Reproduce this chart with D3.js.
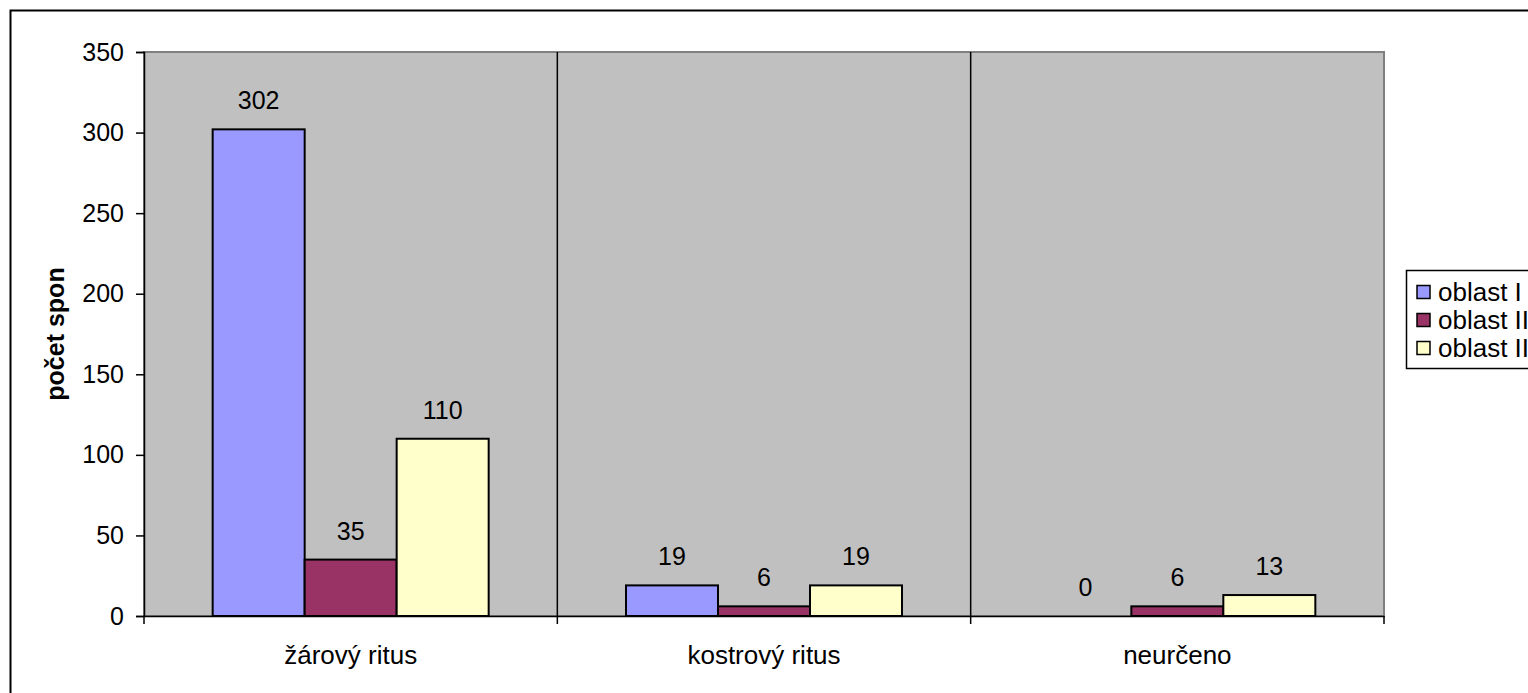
<!DOCTYPE html>
<html><head><meta charset="utf-8">
<script src="https://cdn.jsdelivr.net/npm/d3@7"></script>
<style>html,body{margin:0;padding:0;background:#fff;overflow:hidden}text{font-family:"Liberation Sans",Arial,sans-serif}</style>
</head><body><svg id="c" width="1528" height="693"></svg>
<script>
const categories = ["žárový ritus", "kostrový ritus", "neurčeno"];
const seriesNames = ["oblast I", "oblast II", "oblast III"];
const seriesColors = ["#9999FF", "#993366", "#FFFFCC"];
const oblastI = [302, 19, 0];
const oblastII = [35, 6, 6];
const oblastIII = [110, 19, 13];
const yTicks = [0, 50, 100, 150, 200, 250, 300, 350];
const yTitle = "počet spon";

const series = [oblastI, oblastII, oblastIII];
const svg = d3.select("#c");
const FS = 25, FS2 = 26;
const L = 144, R = 1384, T = 52, B = 616;

// outer frame
svg.append("rect").attr("x", 10.5).attr("y", 10.5).attr("width", 1560).attr("height", 720)
  .attr("fill", "#fff").attr("stroke", "#000").attr("stroke-width", 2);

const x0 = d3.scaleBand().domain(categories).range([L, R]).paddingInner(0).paddingOuter(0);
const y = d3.scaleLinear().domain([0, 350]).range([B, T]);
const gw = x0.bandwidth() * 276 / 413.33;
const x1 = d3.scaleBand().domain(seriesNames).range([0, gw]);

// plot area
svg.append("rect").attr("x", L).attr("y", T).attr("width", R - L).attr("height", B - T)
  .attr("fill", "#C0C0C0").attr("stroke", "#808080").attr("stroke-width", 2);

// category separators
categories.slice(1).forEach(c => {
  svg.append("line").attr("x1", x0(c)).attr("x2", x0(c)).attr("y1", T).attr("y2", B)
    .attr("stroke", "#000").attr("stroke-width", 1.5);
});

// bars
categories.forEach((c, ci) => {
  const gx = x0(c) + (x0.bandwidth() - gw) / 2;
  series.forEach((s, si) => {
    const v = s[ci];
    const bx = gx + x1(seriesNames[si]);
    if (v > 0) {
      svg.append("rect").attr("x", bx).attr("y", y(v)).attr("width", x1.bandwidth())
        .attr("height", y(0) - y(v)).attr("fill", seriesColors[si]).attr("stroke", "#000").attr("stroke-width", 2);
    }
    svg.append("text").attr("x", bx + x1.bandwidth() / 2).attr("y", y(v) - 20)
      .attr("text-anchor", "middle").attr("font-size", FS).attr("fill", "#000").text(v);
  });
});

// y axis
const ya = svg.append("g").attr("transform", `translate(${L},0)`)
  .call(d3.axisLeft(y).tickValues(yTicks).tickSize(8).tickPadding(12));
ya.select(".domain").attr("stroke", "#000").attr("stroke-width", 1.5);
ya.selectAll(".tick line").attr("stroke", "#000").attr("stroke-width", 1.5);
ya.selectAll(".tick text").attr("font-size", FS).attr("fill", "#000").attr("font-family", "Liberation Sans, Arial, sans-serif");

// x axis
const xa = svg.append("g").attr("transform", `translate(0,${B})`)
  .call(d3.axisBottom(x0).tickSize(0).tickPadding(30));
xa.select(".domain").attr("stroke", "#000").attr("stroke-width", 1.5);
xa.selectAll(".tick text").attr("font-size", FS2).attr("fill", "#000").attr("font-family", "Liberation Sans, Arial, sans-serif");
[L, x0(categories[1]), x0(categories[2]), R].forEach(xx => {
  svg.append("line").attr("x1", xx).attr("x2", xx).attr("y1", B).attr("y2", B + 8)
    .attr("stroke", "#000").attr("stroke-width", 1.5);
});

// y title
svg.append("text").attr("transform", `translate(64,${(T + B) / 2}) rotate(-90)`)
  .attr("text-anchor", "middle").attr("font-size", FS).attr("font-weight", "bold").text(yTitle);

// legend
const lg = svg.append("g");
lg.append("rect").attr("x", 1406.5).attr("y", 270.5).attr("width", 200).attr("height", 98)
  .attr("fill", "#fff").attr("stroke", "#000").attr("stroke-width", 1.5);
seriesNames.forEach((n, i) => {
  const cy = 292 + i * 28;
  lg.append("rect").attr("x", 1417).attr("y", cy - 6.5).attr("width", 13).attr("height", 13)
    .attr("fill", seriesColors[i]).attr("stroke", "#000").attr("stroke-width", 1.5);
  lg.append("text").attr("x", 1438).attr("y", cy + 9).attr("font-size", FS2).text(n);
});
</script></body></html>
